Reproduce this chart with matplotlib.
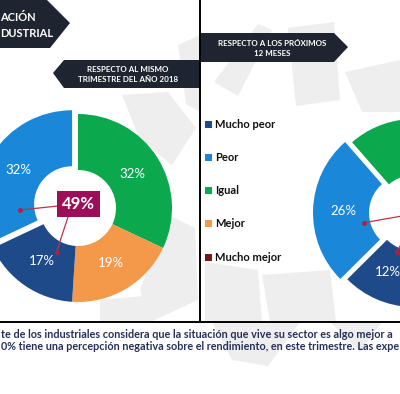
import matplotlib.pyplot as plt
from matplotlib.patches import Polygon, Rectangle
import numpy as np

# data
categories = ["Mucho peor", "Peor", "Igual", "Mejor", "Mucho mejor"]
colors = ["#1F4A8A", "#1B87D9", "#0CA84E", "#F4994A", "#7A1518"]

# respecto al mismo trimestre del ano 2018 (clockwise order from top)
left_order = ["Igual", "Mejor", "Mucho mejor", "Mucho peor", "Peor"]
left_values = [32, 19, 0, 17, 32]

# respecto a los proximos 12 meses (only part of the donut is visible)
right_order = ["Mucho peor", "Peor", "Igual", "Mejor", "Mucho mejor"]
right_values = [12, 26, 40, 20, 2]

negative = ["Mucho peor", "Peor"]

bottom_lines = [
    "te de los industriales considera que la situación que vive su sector es algo mejor a",
    "0% tiene una percepción negativa sobre el rendimiento, en este trimestre. Las expe",
]

W, H = 400, 394
fig = plt.figure(figsize=(W / 100, H / 100), dpi=100)
ax = fig.add_axes([0, 0, 1, 1])
ax.set_xlim(0, W)
ax.set_ylim(0, H)
FONT = "Lato"


def Y(y):
    return H - y


# faint watermark shapes in the background
shapes = [
    [(178, 45), (200, 35), (200, 112), (186, 104)],
    [(122, 95), (168, 92), (196, 128), (172, 165), (140, 140)],
    [(168, 215), (195, 228), (198, 300), (150, 322), (140, 290)],
    [(100, 300), (145, 296), (150, 322), (100, 322)],
    [(214, 82), (258, 24), (272, 30), (238, 96)],
    [(288, 28), (334, 22), (340, 100), (296, 106)],
    [(345, 72), (400, 60), (400, 112), (362, 112)],
    [(205, 262), (258, 270), (262, 322), (205, 322)],
    [(262, 275), (330, 270), (336, 322), (270, 322)],
    [(212, 322), (300, 322), (268, 366), (232, 360)],
    [(330, 322), (382, 322), (360, 352)],
]
for s in shapes:
    ax.add_patch(Polygon([(x, Y(y)) for x, y in s], closed=True,
                         facecolor="#EEEEEE", edgecolor="none", zorder=0))


def donut(values, order, center, start, explode_name, dots, box_text=None, box_center=None):
    cx, cy = center
    cols = [colors[categories.index(n)] for n in order]
    explode = [7 if n == explode_name else 0 for n in order]
    wedges, _, autotexts = ax.pie(
        values, colors=cols, explode=explode, startangle=start, counterclock=False,
        center=(cx, Y(cy)), radius=94, frame=True,
        wedgeprops=dict(width=56, linewidth=0),
        autopct=lambda p: "%d%%" % round(p) if p >= 5 else "", pctdistance=0.68,
        textprops=dict(color="white", fontsize=9.5, family=FONT))
    # labels whose centre falls outside the cropped picture are not shown,
    # the ones close to the edge are nudged inside
    for t in autotexts:
        x, y = t.get_position()
        if x > W:
            t.set_visible(False)
        elif x > W - 12:
            t.set_position((W - 12, y))
    # callout lines from the negative total to the negative segments
    for ang, r, end in dots:
        px = cx + r * np.cos(np.radians(ang))
        py = Y(cy) + r * np.sin(np.radians(ang))
        ax.plot([px, end[0]], [py, Y(end[1])], color="#C23046", lw=0.9, zorder=5)
        ax.plot(px, py, "o", color="#B0203F", ms=2.5, zorder=6)
    if box_text:
        ax.text(box_center[0], Y(box_center[1]), box_text, ha="center", va="center",
                color="white", fontsize=12, fontweight="bold", family=FONT, zorder=7,
                bbox=dict(boxstyle="square,pad=0.3", facecolor="#9C0E58", edgecolor="none"))


neg_left = sum(v for n, v in zip(left_order, left_values) if n in negative)

donut(left_values, left_order, (78, 208), 90, "Peor",
      [(182, 58, (58, 206)), (244, 49, (68, 217))], "%d%%" % neg_left, (78, 204))
donut(right_values, right_order, (414, 213), 268, "Peor",
      [(191, 51, (402, 216)), (246, 43, (408, 232))])

# banners
banners = [
    [(0, 0), (47, 0), (70, 23), (50, 48), (0, 48)],
    [(53, 73), (64, 60), (200, 60), (200, 88), (64, 88)],
    [(200, 33), (334, 33), (348, 47), (334, 62), (200, 62)],
]
for b in banners:
    ax.add_patch(Polygon([(x, Y(y)) for x, y in b], closed=True,
                         facecolor="#1E2530", edgecolor="none", zorder=8))

ax.text(0, Y(17), "ACIÓN", color="white", fontsize=8, fontweight="bold",
        family=FONT, ha="left", va="center", zorder=9)
ax.text(0, Y(33), "DUSTRIAL", color="white", fontsize=8, fontweight="bold",
        family=FONT, ha="left", va="center", zorder=9)
ax.text(128, Y(74), "RESPECTO AL MISMO\nTRIMESTRE DEL AÑO 2018", color="white",
        fontsize=5.8, fontweight="bold", family=FONT, ha="center", va="center",
        linespacing=1.5, zorder=9)
ax.text(272, Y(48), "RESPECTO A LOS PRÓXIMOS\n12 MESES", color="white",
        fontsize=5.8, fontweight="bold", family=FONT, ha="center", va="center",
        linespacing=1.5, zorder=9)

# legend
for i, (name, c) in enumerate(zip(categories, colors)):
    yy = 124 + i * 33.3
    ax.add_patch(Rectangle((205, Y(yy) - 3.5), 7, 7, facecolor=c, edgecolor="none", zorder=9))
    ax.text(215, Y(yy), name, color="#111111", fontsize=8, fontweight="bold",
            family=FONT, ha="left", va="center", zorder=9)

# frame lines
ax.plot([200, 200], [Y(0), Y(322)], color="black", lw=1.4, zorder=10)
ax.plot([0, W], [Y(322), Y(322)], color="black", lw=1.4, zorder=10)

# bottom text, sized so each line just fills the width
renderer = fig.canvas.get_renderer()
for i, line in enumerate(bottom_lines):
    t = ax.text(1, Y(335 + 11 * i), line, color="#26305A", fontsize=8,
                fontweight="bold", family=FONT, ha="left", va="center")
    w = t.get_window_extent(renderer).width
    t.set_fontsize(8 * (W - 3) / w)

ax.set_aspect("auto")
ax.axis("off")

fig.savefig("out.png", dpi=100)
